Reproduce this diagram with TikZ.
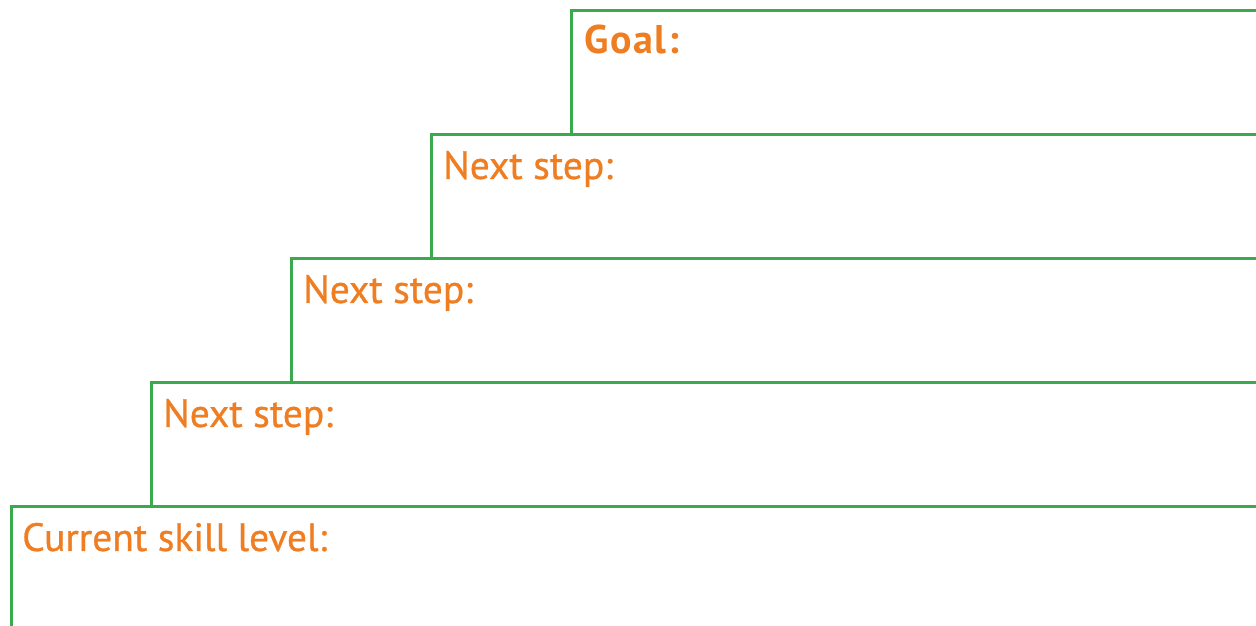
\documentclass[tikz,border=0pt]{standalone}
\usepackage{fontspec}
\setmainfont{PT Sans}
\newfontfamily\labelfont{PT Sans}[FakeBold=0.7]
\newfontfamily\goalfont{PT Sans Bold}[LetterSpace=4]
\definecolor{boxgreen}{HTML}{3BAA4F}
\definecolor{labelorange}{HTML}{EF7D22}
\begin{document}
\begin{tikzpicture}[x=1pt,y=1pt,
  stepbox/.style={draw=boxgreen, line width=2.6pt, rectangle, inner sep=0pt, anchor=north west, minimum height=124pt},
  steplabel/.style={text=labelorange, font=\labelfont\fontsize{39.5}{44}\selectfont, anchor=base west, inner sep=0pt}]
\useasboundingbox (0,0) rectangle (1256,626);
\clip (0,0) rectangle (1256,626);
\node[stepbox, minimum width=700pt] (b5) at (570,617) {};
\node[stepbox, minimum width=840pt] (b4) at (430,493) {};
\node[stepbox, minimum width=980pt] (b3) at (290,369) {};
\node[stepbox, minimum width=1120pt] (b2) at (150,245) {};
\node[stepbox, minimum width=1260pt, minimum height=140pt] (b1) at (10,121) {};
\node[steplabel, font=\goalfont\fontsize{40}{44}\selectfont] (t5) at ([shift={(14,-45)}]b5.north west) {Goal:};
\node[steplabel] (t4) at ([shift={(13,-46)}]b4.north west) {Next step:};
\node[steplabel] (t3) at ([shift={(13,-46)}]b3.north west) {Next step:};
\node[steplabel] (t2) at ([shift={(13,-46)}]b2.north west) {Next step:};
\node[steplabel] (t1) at ([shift={(12,-46)}]b1.north west) {Current skill level:};
\end{tikzpicture}
\end{document}
